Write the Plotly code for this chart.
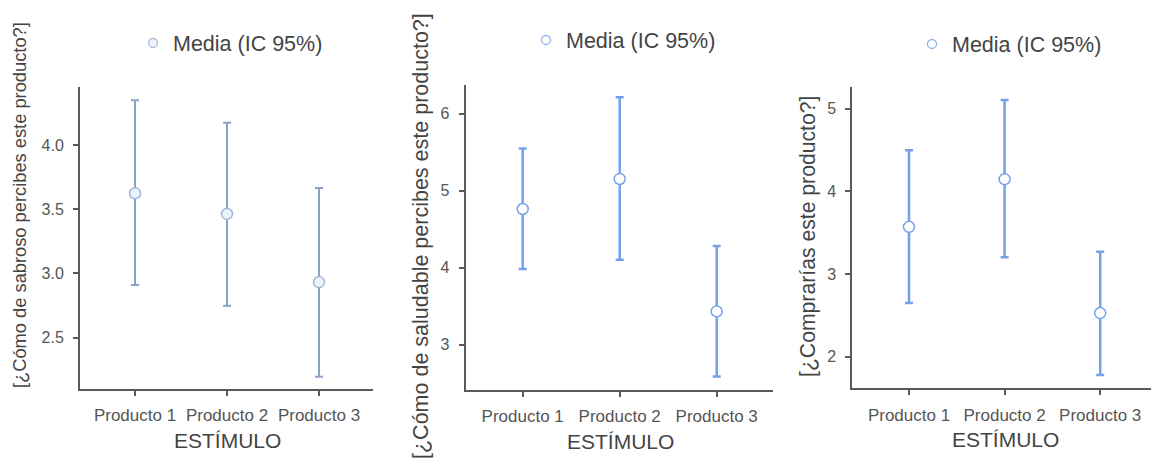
import plotly.graph_objects as go

W, H = 1151, 459

categories = ["Producto 1", "Producto 2", "Producto 3"]

# Panel 1: sabroso
sabroso_mean = [3.625, 3.464, 2.933]
sabroso_low = [2.91, 2.748, 2.195]
sabroso_high = [4.35, 4.174, 3.667]

# Panel 2: saludable
saludable_mean = [4.76, 5.15, 3.43]
saludable_low = [3.98, 4.10, 2.585]
saludable_high = [5.545, 6.21, 4.28]

# Panel 3: compraría
compra_mean = [3.573, 4.149, 2.53]
compra_low = [2.653, 3.205, 1.78]
compra_high = [4.50, 5.105, 3.27]

y_titles = ["[¿Cómo de sabroso percibes este producto?]",
            "[¿Cómo de saludable percibes este producto?]",
            "[¿Comprarías este producto?]"]
x_title = "ESTÍMULO"
legend_label = "Media (IC 95%)"

FONT = "Liberation Sans, Arial, sans-serif"
AXC = "#5a5a5a"
TXT = "#555555"

panels = [
    dict(mean=sabroso_mean, low=sabroso_low, high=sabroso_high,
         bar="#8da0c6", fill="#eaf4fb", edge="#a3b5d6", legfill="#eef3f9", legedge="#aebbd3",
         px=(80, 373), py=(389, 87), yr=(2.10, 4.453), dtick=0.5, fmt=".1f",
         ytitle=(19, 205, 18.3), leg=(133, 43), bw=2),
    dict(mean=saludable_mean, low=saludable_low, high=saludable_high,
         bar="#74a2ea", fill="#ffffff", edge="#74a2ea", legfill="#ffffff", legedge="#8fb3ee",
         px=(465.7, 773), py=(390, 85), yr=(2.41, 6.37), dtick=1, fmt="d",
         ytitle=(421, 236, 21.5), leg=(526, 40), bw=2.5),
    dict(mean=compra_mean, low=compra_low, high=compra_high,
         bar="#74a2ea", fill="#ffffff", edge="#74a2ea", legfill="#ffffff", legedge="#8fb3ee",
         px=(852.3, 1151), py=(388.3, 87.3), yr=(1.62, 5.26), dtick=1, fmt="d",
         ytitle=(808, 237, 21.2), leg=(912, 44), bw=2.5),
]

fig = go.Figure()
annotations = []
xs = list(range(len(categories)))

for i, p in enumerate(panels):
    n = "" if i == 0 else str(i + 1)
    xa, ya = "x" + n, "y" + n
    plus = [h - m for h, m in zip(p["high"], p["mean"])]
    minus = [m - l for m, l in zip(p["mean"], p["low"])]
    fig.add_trace(go.Scatter(
        x=xs, y=p["mean"], mode="markers", xaxis=xa, yaxis=ya, showlegend=False,
        marker=dict(size=11, color=p["fill"], line=dict(color=p["edge"], width=1.5)),
        error_y=dict(type="data", array=plus, arrayminus=minus, color=p["bar"],
                     thickness=p["bw"], width=4),
    ))
    # legend entry
    fig.add_trace(go.Scatter(
        x=[None], y=[None], mode="markers", xaxis=xa, yaxis=ya, name=legend_label,
        legend="legend" + n, showlegend=True,
        marker=dict(size=9, color=p["legfill"], line=dict(color=p["legedge"], width=1.3)),
    ))
    x0, x1 = p["px"]
    yb, yt = p["py"]
    xd = [x0 / W, min(x1 / W, 1.0)]
    yd = [(H - yb) / H, (H - yt) / H]
    step = {0: 92, 1: 97, 2: 95.6}[i]
    c0 = {0: 135, 1: 522.7, 2: 909}[i]
    xr = [(x0 - c0) / step, (x1 - c0) / step]
    axis_common = dict(showline=True, linecolor=AXC, linewidth=2, ticks="outside",
                       ticklen=5, tickwidth=2, tickcolor=AXC, showgrid=False, zeroline=False,
                       fixedrange=True)
    fig.update_layout(**{
        "xaxis" + n: dict(domain=xd, range=xr, tickvals=xs, ticktext=categories,
                          anchor=ya, tickfont=dict(family=FONT, size=17, color=TXT),
                          ticklabelstandoff=5, **axis_common),
        "yaxis" + n: dict(domain=yd, range=list(p["yr"]), dtick=p["dtick"], tick0=0,
                          tickformat=p["fmt"], anchor=xa,
                          tickfont=dict(family=FONT, size=16, color=TXT),
                          ticklabelstandoff=6, **axis_common),
        ("legend" + n): dict(x=p["leg"][0] / W, y=(H - p["leg"][1]) / H, xanchor="left",
                             yanchor="middle", bgcolor="rgba(0,0,0,0)",
                             font=dict(family=FONT, size=21.5, color="#444444")),
    })
    tx, ty, ts = p["ytitle"]
    annotations.append(dict(text=y_titles[i], xref="paper", yref="paper",
                            x=tx / W, y=(H - ty) / H, xanchor="center", yanchor="middle",
                            textangle=-90, showarrow=False,
                            font=dict(family=FONT, size=ts, color="#444444")))
    cx = {0: 227, 1: 620, 2: 1005}[i]
    cy = {0: 440, 1: 441, 2: 439}[i]
    annotations.append(dict(text=x_title, xref="paper", yref="paper",
                            x=cx / W, y=(H - cy) / H, xanchor="center", yanchor="middle",
                            showarrow=False,
                            font=dict(family=FONT, size=21, color="#444444")))

fig.update_layout(width=W, height=H, margin=dict(l=0, r=0, t=0, b=0),
                  paper_bgcolor="white", plot_bgcolor="white",
                  annotations=annotations)

fig.write_html("out.html", config={"displayModeBar": False},
               post_script="document.body.style.margin='0';document.body.style.padding='0';document.body.style.overflow='hidden';")
